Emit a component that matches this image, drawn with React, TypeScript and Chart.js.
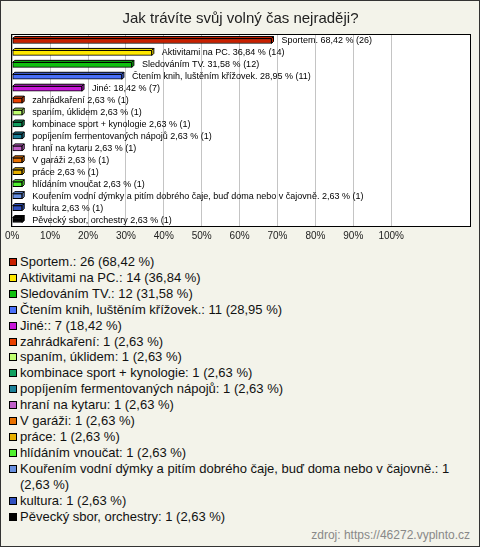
import React, { useEffect, useRef } from "react";
import { Chart, registerables } from "chart.js";

Chart.register(...registerables);

const titleText = "Jak trávíte svůj volný čas nejraději?";
const categories = [
  "Sportem.",
  "Aktivitami na PC.",
  "Sledováním TV.",
  "Čtením knih, luštěním křížovek.",
  "Jiné:",
  "zahrádkaření",
  "spaním, úklidem",
  "kombinace sport + kynologie",
  "popíjením fermentovaných nápojů",
  "hraní na kytaru",
  "V garáži",
  "práce",
  "hlídáním vnoučat",
  "Kouřením vodní dýmky a pitím dobrého čaje, buď doma nebo v čajovně.",
  "kultura",
  "Pěvecký sbor, orchestry",
];
const counts = [26, 14, 12, 11, 7, 1, 1, 1, 1, 1, 1, 1, 1, 1, 1, 1];
const percents = [68.42, 36.84, 31.58, 28.95, 18.42, 2.63, 2.63, 2.63, 2.63, 2.63, 2.63, 2.63, 2.63, 2.63, 2.63, 2.63];
const colors = [
  "#c82000", "#ffe800", "#10c010", "#4a70f8", "#c818d8", "#e84000",
  "#c0ff70", "#10a060", "#1a8098", "#c060c8", "#e87000", "#e8b000",
  "#50f030", "#6890e0", "#3050c0", "#000000",
];
const xTicks = [0, 10, 20, 30, 40, 50, 60, 70, 80, 90, 100];
const xMax = 120.8;
const sourceText = "zdroj: https://46272.vyplnto.cz";

const fmt = (p: number) => p.toFixed(2).replace(".", ",");

const plotPlugin = {
  id: "plotDecor",
  beforeDraw(chart: any) {
    const { ctx, chartArea } = chart;
    ctx.save();
    ctx.fillStyle = "#ffffff";
    ctx.fillRect(chartArea.left, chartArea.top, chartArea.right - chartArea.left, chartArea.bottom - chartArea.top);
    ctx.restore();
  },
  afterDatasetsDraw(chart: any) {
    const { ctx } = chart;
    const meta = chart.getDatasetMeta(0);
    ctx.save();
    meta.data.forEach((el: any, i: number) => {
      const d = 2;
      const h = el.height;
      const top = el.y - h / 2;
      const bottom = el.y + h / 2;
      const x = el.x;
      const base = el.base;
      ctx.lineWidth = 1;
      ctx.strokeStyle = "#000";
      ctx.fillStyle = colors[i];
      ctx.beginPath();
      ctx.moveTo(base, top);
      ctx.lineTo(base + d, top - d);
      ctx.lineTo(x + d, top - d);
      ctx.lineTo(x, top);
      ctx.closePath();
      ctx.fill();
      ctx.stroke();
      ctx.beginPath();
      ctx.moveTo(x, top);
      ctx.lineTo(x + d, top - d);
      ctx.lineTo(x + d, bottom - d);
      ctx.lineTo(x, bottom);
      ctx.closePath();
      ctx.fill();
      ctx.stroke();
      ctx.fillStyle = "#000";
      ctx.font = "9px Arial, 'Liberation Sans', sans-serif";
      ctx.textBaseline = "middle";
      ctx.textAlign = "left";
      ctx.fillText(`${categories[i]} ${fmt(percents[i])} % (${counts[i]})`, x + 10, el.y);
    });
    ctx.restore();
  },
  afterDraw(chart: any) {
    const { ctx, chartArea } = chart;
    ctx.save();
    ctx.strokeStyle = "#000";
    ctx.lineWidth = 1;
    ctx.strokeRect(
      Math.round(chartArea.left) - 0.5,
      Math.round(chartArea.top) - 0.5,
      Math.round(chartArea.right - chartArea.left) + 1,
      Math.round(chartArea.bottom - chartArea.top) + 1
    );
    ctx.restore();
  },
};

export default function App() {
  const canvasRef = useRef<HTMLCanvasElement | null>(null);

  useEffect(() => {
    if (!canvasRef.current) return;
    const chart = new Chart(canvasRef.current, {
      type: "bar",
      data: {
        labels: categories,
        datasets: [
          {
            data: percents,
            backgroundColor: colors,
            borderColor: "#000",
            borderWidth: 1,
            borderSkipped: false,
            barThickness: 5,
          },
        ],
      },
      options: {
        indexAxis: "y",
        responsive: false,
        animation: false,
        devicePixelRatio: 1,
        events: [],
        layout: { padding: { left: 10, right: 9, top: 0, bottom: 7 } },
        plugins: {
          legend: { display: false },
          tooltip: { enabled: false },
          title: {
            display: true,
            text: titleText,
            color: "#222",
            font: { family: "Arial, 'Liberation Sans', sans-serif", size: 15, weight: "normal" },
            padding: { top: 9, bottom: 7 },
          },
        },
        scales: {
          x: {
            min: 0,
            max: xMax,
            afterBuildTicks: (scale: any) => {
              scale.ticks = xTicks.map((v) => ({ value: v }));
            },
            grid: { color: "#c4c4c4", drawTicks: false, tickLength: 0 },
            border: { display: false },
            ticks: {
              padding: 4,
              color: "#222",
              font: { family: "Arial, 'Liberation Sans', sans-serif", size: 10 },
              callback: (v: any) => `${v}%`,
              maxRotation: 0,
              autoSkip: false,
            },
          },
          y: { display: false },
        },
      },
      plugins: [plotPlugin],
    } as any);
    return () => chart.destroy();
  }, []);

  return (
    <div
      style={{
        position: "absolute",
        left: 0,
        top: 0,
        width: 480,
        height: 547,
        boxSizing: "border-box",
        border: "1px solid #333",
        background: "#f3f3ea",
        fontFamily: "Arial, 'Liberation Sans', sans-serif",
      }}
    >
      <canvas ref={canvasRef} width={478} height={252} style={{ display: "block" }} />
      <div style={{ position: "absolute", left: 8, top: 253, width: 462 }}>
        {categories.map((c, i) => (
          <div key={i} style={{ display: "flex", alignItems: "flex-start", fontSize: 13, lineHeight: "15.9px", color: "#111" }}>
            <span
              style={{
                flex: "none",
                width: 6,
                height: 6,
                border: "1px solid #000",
                background: colors[i],
                marginTop: 4,
                marginRight: 3,
              }}
            />
            <span style={{ flex: 1 }}>{`${c}: ${counts[i]} (${fmt(percents[i])} %)`}</span>
          </div>
        ))}
      </div>
      <div
        style={{
          position: "absolute",
          right: 9,
          top: 527,
          fontSize: 12,
          lineHeight: "14px",
          color: "#888",
        }}
      >
        {sourceText}
      </div>
    </div>
  );
}
